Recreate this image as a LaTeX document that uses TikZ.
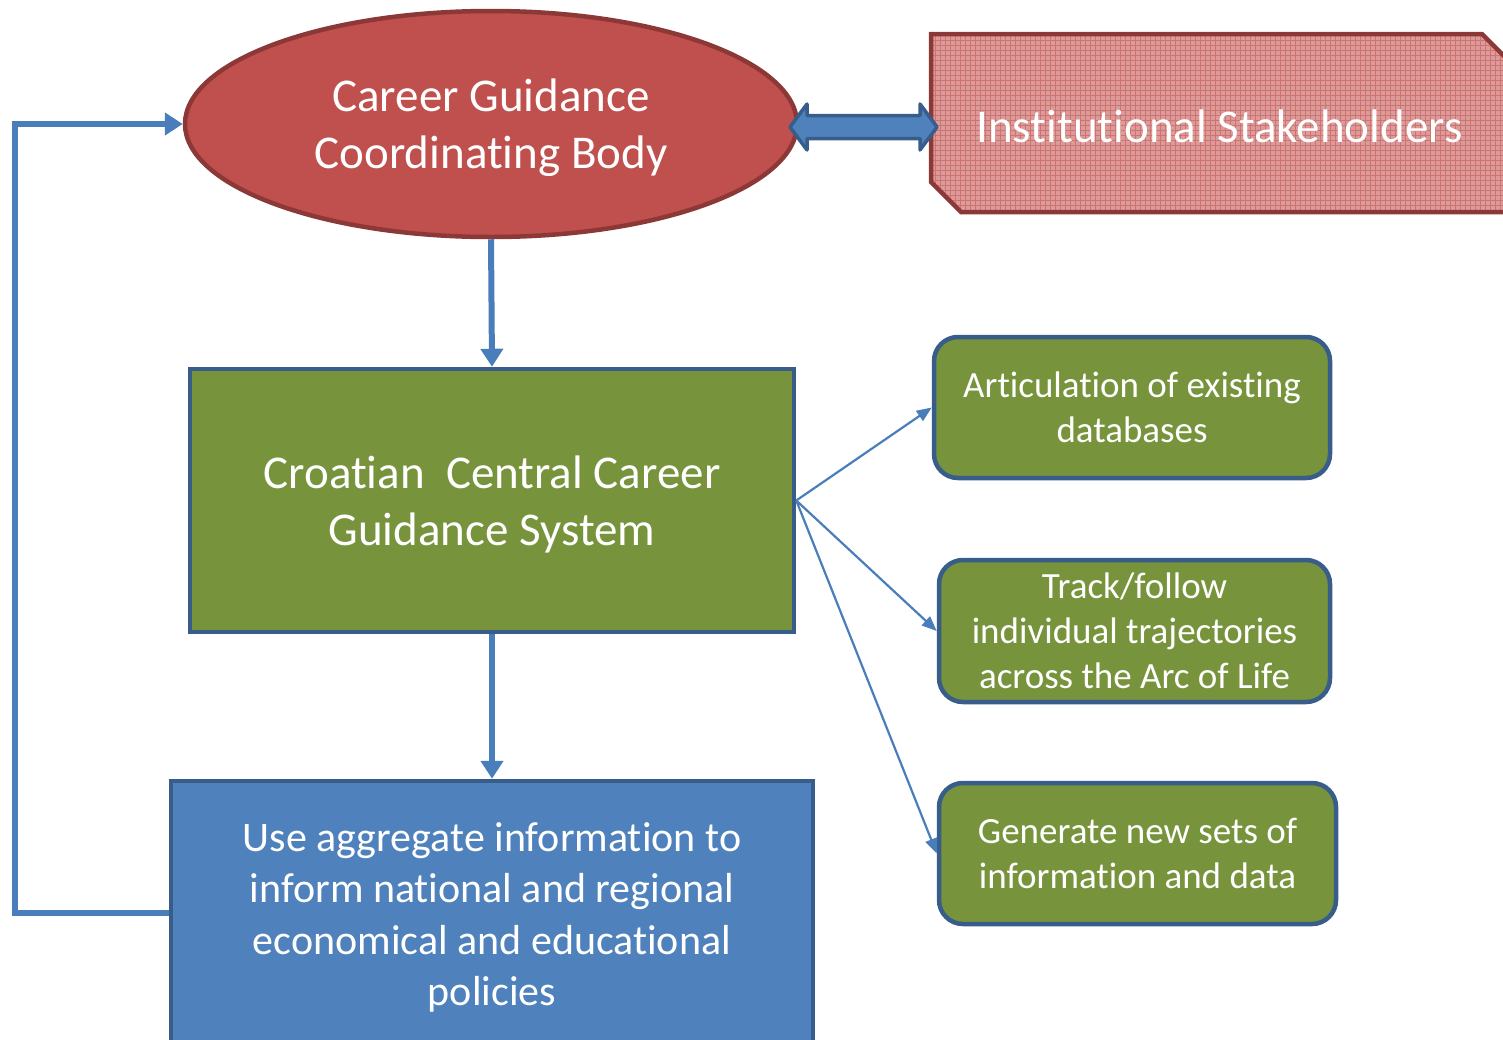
\documentclass[tikz,border=0pt]{standalone}
\usepackage{fontspec}
\setmainfont{Carlito}[Ligatures=NoCommon]
\usetikzlibrary{arrows.meta,calc,shapes.geometric}
\definecolor{redfill}{HTML}{C0504D}
\definecolor{redline}{HTML}{8C3836}
\definecolor{pinkfill}{HTML}{DC9A98}
\definecolor{greenfill}{HTML}{77933C}
\definecolor{bluefill}{HTML}{4F81BD}
\definecolor{blueline}{HTML}{385D8A}
\definecolor{conn}{HTML}{4A7EBB}
\tikzset{
  boxline/.style={draw=blueline, line width=4.5pt},
  bigtext/.style={text=white, font=\fontsize{47}{57}\selectfont, align=center},
  greenbox/.style={boxline, fill=greenfill, rounded corners=24pt, inner sep=0pt, text=white, font=\fontsize{37}{45}\selectfont, align=center},
  thickconn/.style={draw=conn, line width=6pt, -{Triangle[length=18pt,width=22pt]}},
  thinconn/.style={draw=conn, line width=2.2pt, -{Triangle[length=15pt,width=12pt]}},
}
\begin{document}
\begin{tikzpicture}[x=1pt,y=-1pt]
\useasboundingbox (0,0) rectangle (1503,1039);
% ellipse
\node[ellipse, draw=redline, line width=4.5pt, fill=redfill, minimum width=612pt, minimum height=226pt, inner sep=0pt] (ell) at (491,124) {};
\node[bigtext] (elltext) at (491,127.5) {Career Guidance\\Coordinating Body};
% institutional stakeholders
\path[fill=pinkfill] (931,34) -- (1482,34) -- (1530,82) -- (1530,212) -- (961,212) -- (931,182) -- cycle;
\begin{scope}
\clip (931,34) -- (1482,34) -- (1530,82) -- (1530,212) -- (961,212) -- (931,182) -- cycle;
\foreach \gx in {925,930,...,1530} \draw[redfill!80, line width=1pt] (\gx,30) -- (\gx,215);
\foreach \gy in {30,35,...,215} \draw[redfill!80, line width=1pt] (925,\gy) -- (1530,\gy);
\end{scope}
\draw[redline, line width=4.5pt, line join=miter] (931,34) -- (1482,34) -- (1530,82) -- (1530,212) -- (961,212) -- (931,182) -- cycle;
\node[text=white, font=\fontsize{47}{57}\selectfont] (ins) at (1219.5,126) {Institutional Stakeholders};
% double arrow
\coordinate (dl) at (790,127);
\coordinate (dr) at (937,127);
\draw[blueline, line width=3.5pt, fill=bluefill, line join=round]
  (dl) -- ($(dl)+(17,-23)$) -- ($(dl)+(17,-11.5)$) -- ($(dr)+(-17,-11.5)$) -- ($(dr)+(-17,-23)$) -- (dr)
  -- ($(dr)+(-17,23)$) -- ($(dr)+(-17,11.5)$) -- ($(dl)+(17,11.5)$) -- ($(dl)+(17,23)$) -- cycle;
% central system
\node[boxline, fill=greenfill, minimum width=604pt, minimum height=263pt, inner sep=0pt] (sys) at (492,500.5) {};
\node[bigtext] (systext) at (492,504.5) {Croatian\ \ Central Career\\Guidance System};
% blue box
\node[boxline, fill=bluefill, minimum width=642pt, minimum height=264pt, inner sep=0pt] (pol) at (492,913) {};
\node[text=white, font=\fontsize{42}{51.5}\selectfont, align=center] (poltext) at (492,917.5) {Use aggregate information to\\inform national and regional\\economical and educational\\policies};
% green rounded boxes
\node[greenbox, minimum width=396pt, minimum height=141pt] (a1) at (1132,407.5) {Articulation of existing\\databases};
\node[greenbox, minimum width=391pt, minimum height=142pt] (a2) at (1134.5,631) {Track/follow\\individual trajectories\\across the Arc of Life};
\node[greenbox, minimum width=397pt, minimum height=141pt] (a3) at (1137.5,853.5) {Generate new sets of\\information and data};
% connectors
\draw[thickconn] (ell.south) -- (sys.north);
\draw[thickconn] (sys.south) -- (pol.north);
\coordinate (fb) at (15,913);
\draw[thickconn] (pol.west) -- (fb) |- (ell.west);
\draw[thinconn] (sys.east) -- (a1.west);
\draw[thinconn] (sys.east) -- (a2.west);
\draw[thinconn] (sys.east) -- (a3.west);
\end{tikzpicture}
\end{document}
